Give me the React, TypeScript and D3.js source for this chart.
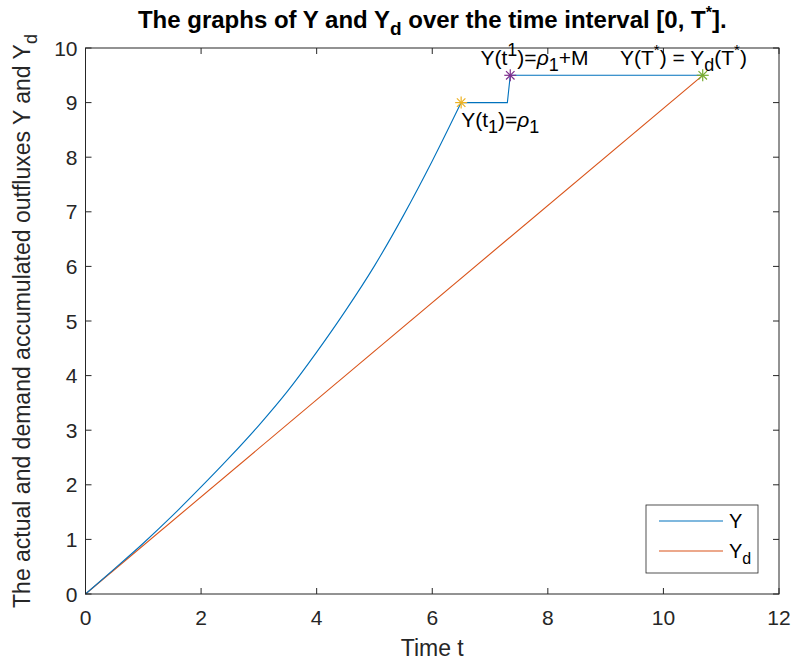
import React from "react";
import * as d3 from "d3";

// actual outflux Y (blue): smooth rise until t1, then the two flat steps
const actualT = [0, 0.5, 1, 1.5, 2, 2.5, 3, 3.5, 4, 4.5, 5, 5.5, 6, 6.5];
const actualY = [0, 0.46, 0.93, 1.43, 1.96, 2.51, 3.09, 3.72, 4.43, 5.19, 6.01, 6.93, 7.93, 9.0];
const stepT = [6.5, 7.3, 7.35, 10.68];
const stepY = [9.0, 9.0, 9.5, 9.5];

// demand outflux Yd (orange)
const demandT = [0, 10.68];
const demandY = [0, 9.5];

// star markers
const markerT = [6.5, 7.35, 10.68];
const markerY = [9.0, 9.5, 9.5];
const markerColors = ["#EDB120", "#7E2F8E", "#77AC30"];

const xTicks = [0, 2, 4, 6, 8, 10, 12];
const yTicks = [0, 1, 2, 3, 4, 5, 6, 7, 8, 9, 10];

const W = 792;
const H = 663;
const margin = { top: 48, right: 13, bottom: 69, left: 85.5 };
const font = "'Liberation Sans', Arial, Helvetica, sans-serif";
const axisColor = "#262626";

const Star = ({ x, y, color }: { x: number; y: number; color: string }) => {
  const r = 6;
  const d = r * 0.707;
  return (
    <g stroke={color} strokeWidth={1.2}>
      <line x1={x - r} y1={y} x2={x + r} y2={y} />
      <line x1={x} y1={y - r} x2={x} y2={y + r} />
      <line x1={x - d} y1={y - d} x2={x + d} y2={y + d} />
      <line x1={x - d} y1={y + d} x2={x + d} y2={y - d} />
    </g>
  );
};

const App = () => {
  const x = d3.scaleLinear().domain([0, 12]).range([margin.left, W - margin.right]);
  const y = d3.scaleLinear().domain([0, 10]).range([H - margin.bottom, margin.top]);

  const pts = (ts: number[], ys: number[]) => ts.map((t, i) => [t, ys[i]] as [number, number]);
  const smooth = d3
    .line<[number, number]>()
    .x((d) => x(d[0]))
    .y((d) => y(d[1]))
    .curve(d3.curveMonotoneX);
  const straight = d3
    .line<[number, number]>()
    .x((d) => x(d[0]))
    .y((d) => y(d[1]));

  const actualPath = (smooth(pts(actualT, actualY)) ?? "") + (straight(pts(stepT, stepY)) ?? "").replace(/^M/, "L");
  const demandPath = straight(pts(demandT, demandY)) ?? "";

  const x0 = x(0);
  const x1 = x(12);
  const y0 = y(0);
  const y1 = y(10);
  const tl = 6;

  // legend box
  const lg = { x: 646, y: 505, w: 112, h: 68 };

  return (
    <svg
      width={W}
      height={H}
      style={{ position: "absolute", left: 0, top: 0, background: "#fff" }}
      fontFamily={font}
    >
      <rect width={W} height={H} fill="#fff" />

      {/* series */}
      <path d={demandPath} fill="none" stroke="#D95319" strokeWidth={1.1} />
      <path d={actualPath} fill="none" stroke="#0072BD" strokeWidth={1.1} />
      {markerT.map((t, i) => (
        <Star key={i} x={x(t)} y={y(markerY[i])} color={markerColors[i]} />
      ))}

      {/* axes box and ticks */}
      <rect x={x0} y={y1} width={x1 - x0} height={y0 - y1} fill="none" stroke={axisColor} strokeWidth={1} />
      {xTicks.map((t) => (
        <g key={"x" + t} stroke={axisColor}>
          <line x1={x(t)} x2={x(t)} y1={y0} y2={y0 - tl} />
          <line x1={x(t)} x2={x(t)} y1={y1} y2={y1 + tl} />
        </g>
      ))}
      {yTicks.map((t) => (
        <g key={"y" + t} stroke={axisColor}>
          <line x1={x0} x2={x0 + tl} y1={y(t)} y2={y(t)} />
          <line x1={x1} x2={x1 - tl} y1={y(t)} y2={y(t)} />
        </g>
      ))}
      {xTicks.map((t) => (
        <text key={"xl" + t} x={x(t)} y={y0 + 31} textAnchor="middle" fontSize={21} fill={axisColor}>
          {t}
        </text>
      ))}
      {yTicks.map((t) => (
        <text key={"yl" + t} x={x0 - 8} y={y(t) + 7.5} textAnchor="end" fontSize={21} fill={axisColor}>
          {t}
        </text>
      ))}

      {/* axis labels */}
      <text x={(x0 + x1) / 2} y={656} textAnchor="middle" fontSize={23} fill={axisColor}>
        Time t
      </text>
      <text
        transform={`translate(30, ${(y0 + y1) / 2}) rotate(-90)`}
        textAnchor="middle"
        fontSize={23}
        fill={axisColor}
      >
        The actual and demand accumulated outfluxes Y and Y
        <tspan fontSize={18} dy={7}>d</tspan>
      </text>

      {/* title */}
      <text x={(x0 + x1) / 2} y={28} textAnchor="middle" fontSize={24} fontWeight="bold" fill="#000">
        The graphs of Y and Y
        <tspan fontSize={19} dy={7}>d</tspan>
        <tspan dy={-7}> over the time interval [0, T</tspan>
        <tspan fontSize={16} dy={-10}>*</tspan>
        <tspan dy={10}>].</tspan>
      </text>

      {/* annotations */}
      <text x={x(6.5)} y={126.5} fontSize={21} fill="#000">
        Y(t
        <tspan fontSize={18} dy={6}>1</tspan>
        <tspan dy={-6}>)=</tspan>
        <tspan fontStyle="italic">ρ</tspan>
        <tspan fontSize={18} dy={6}>1</tspan>
      </text>
      <text x={480.5} y={65} fontSize={21} fill="#000">
        Y(t
        <tspan fontSize={18} dy={-9}>1</tspan>
        <tspan dy={9}>)=</tspan>
        <tspan fontStyle="italic">ρ</tspan>
        <tspan fontSize={18} dy={6}>1</tspan>
        <tspan dy={-6}>+M</tspan>
      </text>
      <text x={620} y={65} fontSize={21} fill="#000">
        Y(T
        <tspan fontSize={15} dy={-10}>*</tspan>
        <tspan dy={10}>) = Y</tspan>
        <tspan fontSize={18} dy={6}>d</tspan>
        <tspan dy={-6}>(T</tspan>
        <tspan fontSize={15} dy={-10}>*</tspan>
        <tspan dy={10}>)</tspan>
      </text>

      {/* legend */}
      <rect x={lg.x} y={lg.y} width={lg.w} height={lg.h} fill="#fff" stroke={axisColor} strokeWidth={0.8} />
      <line x1={659} x2={723} y1={521} y2={521} stroke="#0072BD" strokeWidth={1.1} />
      <line x1={659} x2={723} y1={551} y2={551} stroke="#D95319" strokeWidth={1.1} />
      <text x={729} y={528} fontSize={20} fill="#000">Y</text>
      <text x={729} y={558} fontSize={20} fill="#000">
        Y<tspan fontSize={16} dy={6}>d</tspan>
      </text>
    </svg>
  );
};

export default App;
